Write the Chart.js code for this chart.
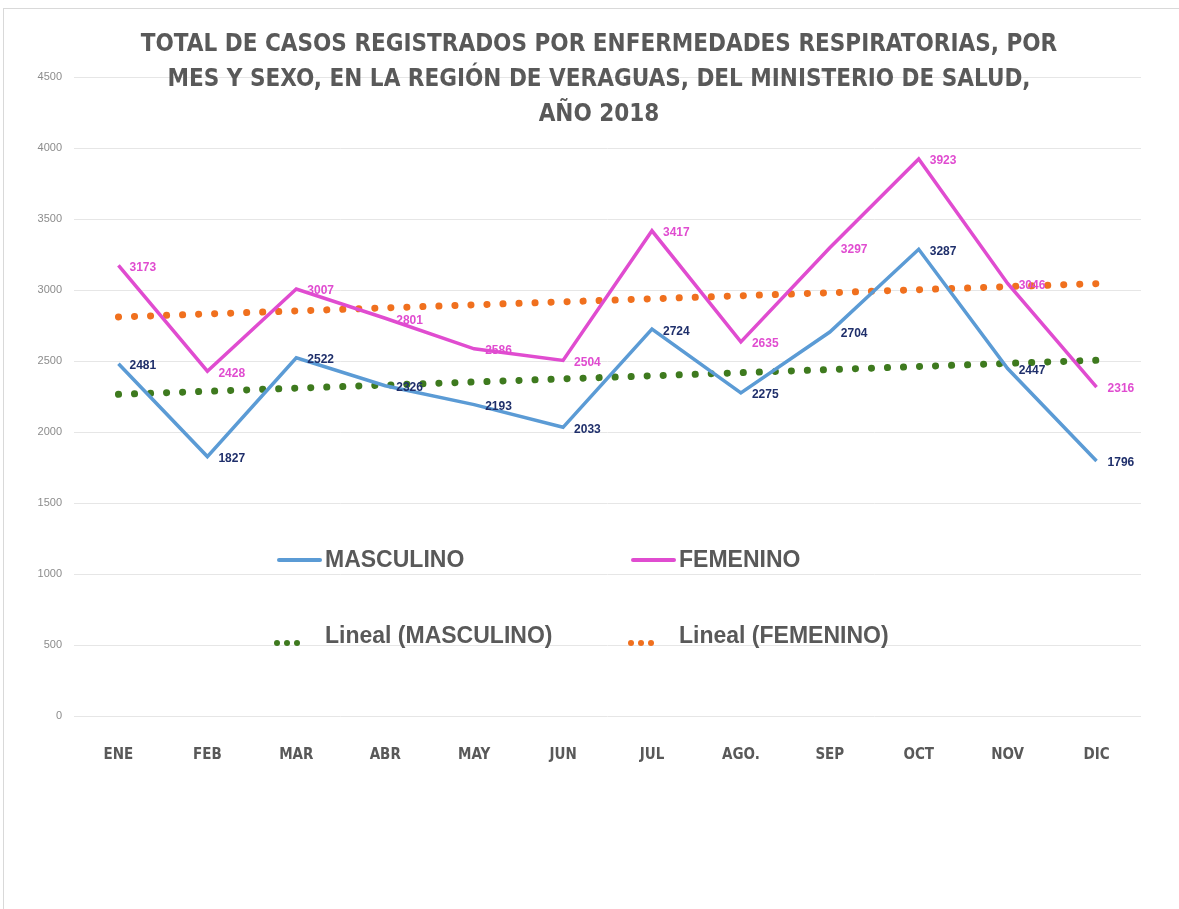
<!DOCTYPE html>
<html>
<head>
<meta charset="utf-8">
<script src="https://cdn.jsdelivr.net/npm/chart.js@4.4.1/dist/chart.umd.min.js"></script>
<style>
  body { margin: 0; background: #fff; }
  #wrap { position: relative; width: 1179px; height: 909px; overflow: hidden; }
  #frame { position: absolute; left: 3px; top: 8px; width: 1200px; height: 950px; border: 1px solid #d9d9d9; }
  canvas { position: absolute; left: 0; top: 0; }
  #title {
    position: absolute; left: 0; width: 1198px; top: 26px;
    text-align: center; color: #595959;
    font: bold 24px "Liberation Sans Narrow", "DejaVu Sans Condensed", sans-serif;
    line-height: 35px;
  }
  .leg { position: absolute; font: bold 23px "Liberation Sans", Arial, sans-serif; color: #595959; }
  .line { position: absolute; height: 4px; width: 45px; border-radius: 2px; }
  .dots { position: absolute; width: 30px; height: 8px; }
  .dots span { display: inline-block; width: 6px; height: 6px; border-radius: 50%; margin-right: 4px; }
</style>
</head>
<body>
<div id="wrap">
  <div id="frame"></div>
  <canvas id="chart" width="1179" height="909"></canvas>
  <div id="title">TOTAL DE CASOS REGISTRADOS POR ENFERMEDADES RESPIRATORIAS, POR<br>MES Y SEXO, EN LA REGIÓN DE VERAGUAS, DEL MINISTERIO DE SALUD,<br>AÑO 2018</div>

  <div class="line" style="left:277px; top:558px; background:#5B9BD5"></div>
  <div class="leg" style="left:325px; top:546px">MASCULINO</div>
  <div class="line" style="left:631px; top:558px; background:#E04CD0"></div>
  <div class="leg" style="left:679px; top:546px">FEMENINO</div>

  <div class="dots" style="left:274px; top:632px"><span style="background:#3E7A1E"></span><span style="background:#3E7A1E"></span><span style="background:#3E7A1E"></span></div>
  <div class="leg" style="left:325px; top:622px">Lineal (MASCULINO)</div>
  <div class="dots" style="left:628px; top:632px"><span style="background:#F0701E"></span><span style="background:#F0701E"></span><span style="background:#F0701E"></span></div>
  <div class="leg" style="left:679px; top:622px">Lineal (FEMENINO)</div>
</div>

<script>
// months on the x axis
const meses = ['ENE', 'FEB', 'MAR', 'ABR', 'MAY', 'JUN', 'JUL', 'AGO.', 'SEP', 'OCT', 'NOV', 'DIC'];

// cases per month
const masculino = [2481, 1827, 2522, 2326, 2193, 2033, 2724, 2275, 2704, 3287, 2447, 1796];
const femenino = [3173, 2428, 3007, 2801, 2586, 2504, 3417, 2635, 3297, 3923, 3046, 2316];

const tendMasculino = [2265, 2505];
const tendFemenino = [2810, 3045];

// y axis ticks
const yTicks = [0, 500, 1000, 1500, 2000, 2500, 3000, 3500, 4000, 4500];

const trendData = vals => [
  { x: meses[0], y: vals[0] },
  { x: meses[meses.length - 1], y: vals[1] }
];

// draws the value next to every point of the two main series
const valueLabels = {
  id: 'valueLabels',
  afterDatasetsDraw(chart) {
    const ctx = chart.ctx;
    ctx.save();
    ctx.font = 'bold 12px "Liberation Sans", Arial, sans-serif';
    ctx.textAlign = 'left';
    ctx.textBaseline = 'middle';
    [0, 1].forEach(i => {
      const ds = chart.data.datasets[i];
      ctx.fillStyle = ds.labelColor;
      chart.getDatasetMeta(i).data.forEach((pt, j) => {
        ctx.fillText(ds.data[j], pt.x + 11, pt.y + 2);
      });
    });
    ctx.restore();
  }
};

new Chart(document.getElementById('chart'), {
  type: 'line',
  data: {
    labels: meses,
    datasets: [
      {
        label: 'MASCULINO',
        data: masculino,
        borderColor: '#5B9BD5',
        borderWidth: 3.5,
        pointRadius: 0,
        labelColor: '#1F2F6B'
      },
      {
        label: 'FEMENINO',
        data: femenino,
        borderColor: '#E04CD0',
        borderWidth: 3.5,
        pointRadius: 0,
        labelColor: '#E04CD0'
      },
      {
        label: 'Lineal (MASCULINO)',
        data: trendData(tendMasculino),
        borderColor: '#3E7A1E',
        borderWidth: 7,
        borderCapStyle: 'round',
        borderDash: [0.1, 15.93],
        pointRadius: 0
      },
      {
        label: 'Lineal (FEMENINO)',
        data: trendData(tendFemenino),
        borderColor: '#F0701E',
        borderWidth: 7,
        borderCapStyle: 'round',
        borderDash: [0.1, 15.93],
        pointRadius: 0
      }
    ]
  },
  options: {
    responsive: false,
    animation: false,
    layout: { padding: { top: 77, right: 38, bottom: 0, left: 0 } },
    plugins: {
      legend: { display: false },
      title: { display: false },
      tooltip: { enabled: false }
    },
    scales: {
      x: {
        offset: true,
        grid: { display: false },
        border: { display: false },
        ticks: {
          padding: 22,
          color: '#595959',
          font: { family: '"Liberation Sans Narrow", "DejaVu Sans Condensed", sans-serif', size: 15, weight: 'bold' }
        },
        afterFit(scale) { scale.height = 193; }
      },
      y: {
        min: 0,
        max: 4500,
        afterBuildTicks(scale) { scale.ticks = yTicks.map(v => ({ value: v })); },
        grid: { color: '#e6e6e6', drawTicks: false },
        border: { display: false },
        ticks: {
          padding: 12,
          color: '#8c8c8c',
          font: { family: '"Liberation Sans", Arial, sans-serif', size: 11 },
          callback: v => String(v)
        },
        afterFit(scale) { scale.width = 74; }
      }
    }
  },
  plugins: [valueLabels]
});
</script>
</body>
</html>
